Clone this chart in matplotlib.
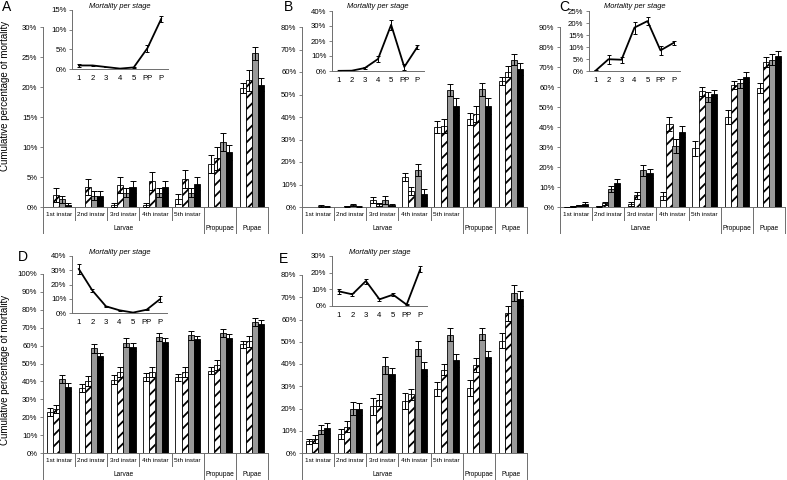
import matplotlib
matplotlib.use('Agg')
import matplotlib.pyplot as plt
import numpy as np
from matplotlib.transforms import blended_transform_factory

plt.rcParams['font.family'] = ['Liberation Sans', 'DejaVu Sans']
plt.rcParams['hatch.linewidth'] = 1.3

W, H = 787, 480
AXC = '#6e6e6e'

stages = ['1st instar', '2nd instar', '3rd instar', '4th instar', '5th instar', '', '']
groups = [('Larvae', 0, 4), ('Propupae', 5, 5), ('Pupae', 6, 6)]
inset_labels = ['1', '2', '3', '4', '5', 'PP', 'P']

# bar order in each list: white, hatched, grey, black
A_vals = [[0, 0, 0.35, 0.35, 1.3, 7.1, 19.8],
          [2.0, 3.3, 3.7, 4.4, 4.7, 8.1, 21.1],
          [1.3, 1.9, 2.4, 2.4, 2.4, 10.8, 25.6],
          [0.4, 1.9, 3.3, 3.3, 3.9, 9.1, 20.4]]
A_errs = [[0, 0, 0.35, 0.35, 0.8, 1.5, 0.8],
          [1.1, 1.3, 1.3, 1.5, 1.5, 1.9, 1.7],
          [0.6, 0.8, 0.7, 0.8, 0.8, 1.5, 1.1],
          [0.3, 0.7, 1.0, 1.0, 1.1, 1.3, 1.1]]

B_vals = [[0, 0, 3.3, 13.3, 35.6, 39.1, 56.2],
          [0, 0.3, 1.2, 7.0, 36.0, 41.5, 60.2],
          [0.5, 0.8, 3.2, 16.4, 52.1, 52.3, 65.5],
          [0.2, 0.2, 1.0, 6.0, 44.7, 44.8, 61.3]]
B_errs = [[0, 0, 1.3, 1.8, 2.5, 2.7, 1.8],
          [0, 0.2, 0.6, 1.7, 3.1, 3.5, 2.3],
          [0.3, 0.4, 1.7, 2.8, 2.7, 2.8, 2.6],
          [0.2, 0.2, 0.5, 1.9, 3.7, 3.6, 2.6]]

C_vals = [[0.1, 0.3, 1.5, 5.5, 29.3, 45.0, 59.5],
          [0.3, 1.8, 5.8, 41.5, 57.8, 61.0, 72.5],
          [0.8, 9.0, 18.3, 30.5, 55.0, 61.8, 73.7],
          [1.5, 11.8, 16.8, 37.7, 56.7, 65.0, 75.3]]
C_errs = [[0.1, 0.2, 1.0, 2.0, 3.8, 3.5, 2.4],
          [0.2, 0.9, 1.8, 3.5, 2.3, 2.0, 2.7],
          [0.3, 1.7, 2.8, 3.7, 2.6, 2.3, 2.6],
          [0.9, 2.3, 2.4, 2.9, 2.0, 2.5, 2.6]]

D_vals = [[22.7, 36.3, 40.8, 42.5, 42.3, 46.0, 60.8],
          [24.5, 40.2, 45.0, 45.4, 45.5, 49.2, 62.4],
          [41.3, 58.4, 61.6, 64.8, 65.9, 67.0, 73.0],
          [37.0, 54.0, 59.2, 62.0, 63.8, 64.4, 72.1]]
D_errs = [[2.3, 2.0, 2.5, 2.0, 1.8, 2.1, 2.0],
          [2.1, 2.8, 2.8, 2.9, 2.8, 2.6, 3.0],
          [2.4, 2.6, 2.4, 2.4, 2.5, 2.4, 2.3],
          [2.3, 2.0, 2.2, 2.1, 1.8, 2.1, 2.0]]

E_vals = [[5.2, 8.7, 20.9, 23.3, 28.9, 29.1, 50.4],
          [6.4, 11.8, 23.8, 26.3, 37.4, 39.6, 62.8],
          [10.5, 20.0, 39.2, 46.9, 53.1, 53.4, 72.0],
          [11.2, 19.7, 35.4, 37.7, 41.7, 43.3, 69.4]]
E_errs = [[1.1, 2.2, 3.8, 3.6, 3.2, 3.5, 3.4],
          [1.8, 2.4, 2.7, 2.4, 2.5, 3.0, 3.3],
          [1.9, 3.0, 3.8, 3.5, 2.9, 2.7, 3.5],
          [2.2, 2.6, 3.0, 3.1, 3.0, 2.7, 3.5]]

# mortality per stage (insets)
A_stage = [0.9, 0.9, 0.5, 0.1, 0.4, 5.3, 12.7]
A_stage_err = [0.3, 0.2, 0.1, 0.1, 0.1, 0.9, 0.7]
B_stage = [0.1, 0.2, 2.0, 8.0, 30.8, 2.7, 16.1]
B_stage_err = [0.1, 0.1, 0.4, 1.8, 3.2, 1.8, 1.3]
C_stage = [0.1, 4.9, 4.7, 18.1, 20.8, 8.6, 11.7]
C_stage_err = [0.4, 1.8, 1.3, 2.5, 1.6, 1.8, 0.8]
D_stage = [30.9, 15.8, 4.7, 1.9, 0.3, 2.3, 9.8]
D_stage_err = [3.6, 0.8, 0.5, 0.4, 0.3, 0.5, 2.0]
E_stage = [8.8, 7.0, 15.0, 4.0, 6.8, 0.8, 22.0]
E_stage_err = [1.3, 1.0, 1.5, 1.0, 1.0, 0.4, 1.8]

fig = plt.figure(figsize=(W / 100, H / 100), dpi=100)


def rect(x0, y0, x1, y1):
    return [x0 / W, 1 - y1 / H, (x1 - x0) / W, (y1 - y0) / H]


def style_axes(ax):
    for s in ['top', 'right']:
        ax.spines[s].set_visible(False)
    for s in ['left', 'bottom']:
        ax.spines[s].set_color(AXC)
        ax.spines[s].set_linewidth(0.7)
    ax.tick_params(axis='y', length=2.5, width=0.6, color=AXC, pad=1.5)


def panel(box, vals, errs, ymax, step, letter, letter_xy, ibox, stage, stage_err, iymax, istep):
    ax = fig.add_axes(rect(*box))
    style_axes(ax)
    x = np.arange(7)
    w = 0.19
    faces = ['white', 'white', '#999999', 'black']
    hatches = [None, '///', None, None]
    for k in range(4):
        xs = x + (k - 1.5) * w
        ax.bar(xs, vals[k], w, color=faces[k], edgecolor='black', linewidth=0.6,
               hatch=hatches[k], zorder=2)
        keep = [i for i in range(7) if errs[k][i] > 0]
        ax.errorbar(xs[keep], np.array(vals[k])[keep], yerr=np.array(errs[k])[keep],
                    fmt='none', ecolor='black', elinewidth=0.7, capsize=2,
                    capthick=0.7, zorder=3)
    ax.set_xlim(-0.5, 6.5)
    ax.set_ylim(0, ymax)
    ticks = np.arange(0, ymax + step / 2, step)
    ax.set_yticks(ticks)
    ax.set_yticklabels(['%d%%' % t for t in ticks], fontsize=5.6)
    ax.set_xticks([])

    # two-level category axis
    hpx = box[3] - box[1]
    tr = blended_transform_factory(ax.transData, ax.transAxes)
    for i, lab in enumerate(stages):
        if lab:
            ax.text(i, -7.5 / hpx, lab, transform=tr, ha='center', va='center', fontsize=4.6)
    for sx in [0.5, 1.5, 2.5, 3.5]:
        ax.plot([sx, sx], [0, -13 / hpx], transform=tr, color=AXC, lw=0.7, clip_on=False)
    for sx in [-0.5, 4.5, 5.5, 6.5]:
        ax.plot([sx, sx], [0, -26 / hpx], transform=tr, color=AXC, lw=0.7, clip_on=False)
    for lab, a, b in groups:
        ax.text((a + b) / 2, -21 / hpx, lab, transform=tr, ha='center', va='center', fontsize=4.8)

    fig.text(letter_xy[0] / W, 1 - letter_xy[1] / H, letter, fontsize=10, ha='left', va='center')

    # inset: mortality per stage
    ia = fig.add_axes(rect(*ibox))
    ia.set_facecolor('none')
    style_axes(ia)
    ia.errorbar(x, stage, yerr=stage_err, color='black', lw=1.3, ecolor='black',
                elinewidth=0.7, capsize=1.6, capthick=0.7)
    ia.set_xlim(-0.5, 6.5)
    ia.set_ylim(0, iymax)
    iticks = np.arange(0, iymax + istep / 2, istep)
    ia.set_yticks(iticks)
    ia.set_yticklabels(['%d%%' % t for t in iticks], fontsize=5.6)
    ia.set_xticks(x)
    ia.set_xticklabels(inset_labels, fontsize=5.6)
    ia.tick_params(axis='x', length=0, pad=4)
    cx = (ibox[0] + ibox[2]) / 2
    fig.text(cx / W, 1 - (ibox[1] - 4) / H, 'Mortality per stage', fontsize=5.4,
             style='italic', ha='center', va='center')
    return ax


panel((43, 27, 268, 207), A_vals, A_errs, 30, 5, 'A', (2, 7),
      (72, 10, 168, 69), A_stage, A_stage_err, 15, 5)
panel((302, 27, 527, 207), B_vals, B_errs, 80, 10, 'B', (284, 7),
      (332, 11, 424, 71), B_stage, B_stage_err, 40, 10)
panel((560, 27, 785, 207), C_vals, C_errs, 90, 10, 'C', (559, 7),
      (589, 11, 680, 71), C_stage, C_stage_err, 25, 5)
panel((43, 274, 268, 453), D_vals, D_errs, 100, 10, 'D', (18, 257),
      (72, 256, 167, 313), D_stage, D_stage_err, 40, 10)
panel((302, 275, 527, 453), E_vals, E_errs, 80, 10, 'E', (279, 259),
      (332, 256, 427, 306), E_stage, E_stage_err, 30, 10)

for yc in [96, 370]:
    fig.text(5 / W, 1 - yc / H, 'Cumulative percentage of mortality', rotation=90,
             fontsize=7, ha='center', va='center')

fig.savefig('out.png', dpi=100)
